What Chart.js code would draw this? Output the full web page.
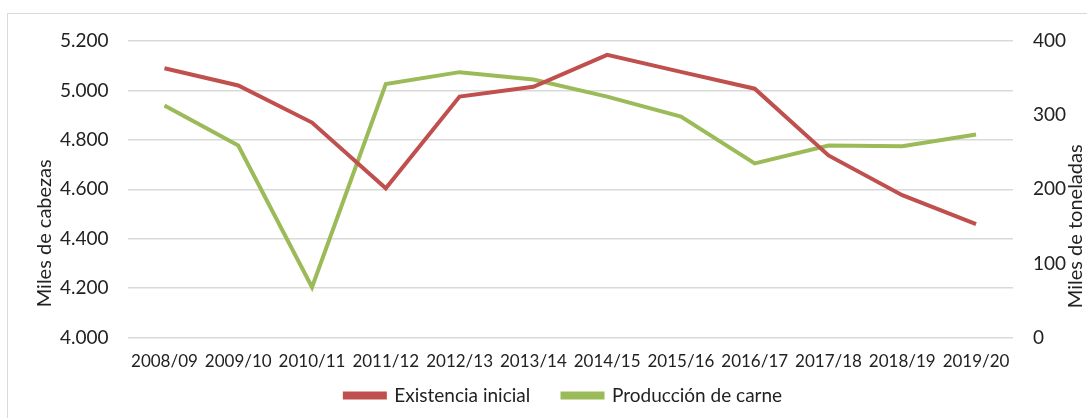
<!DOCTYPE html>
<html>
<head>
<meta charset="utf-8">
<script src="https://cdn.jsdelivr.net/npm/chart.js@4"></script>
<style>
  html, body { margin: 0; padding: 0; background: #fff; overflow: hidden; }
  #frame { position: absolute; left: 7px; top: 13px; width: 1200px; height: 600px; border-left: 1px solid #D9D9D9; border-top: 1px solid #D9D9D9; }
  #wrap { position: absolute; left: 0; top: 0; width: 1087px; height: 418px; }
</style>
</head>
<body>
<div id="frame"></div>
<div id="wrap"><canvas id="chart"></canvas></div>
<script>
const categories = ['2008/09', '2009/10', '2010/11', '2011/12', '2012/13', '2013/14',
    '2014/15', '2015/16', '2016/17', '2017/18', '2018/19', '2019/20'];
const existencia = [5090, 5020, 4870, 4604, 4975, 5015, 5144, 5075, 5007, 4737, 4576, 4459];
const produccion = [313, 259, 68, 342, 358, 348, 325, 298, 235, 259, 258, 274];
const leftTicks = [4000, 4200, 4400, 4600, 4800, 5000, 5200];
const rightTicks = [0, 100, 200, 300, 400];

const font = 'Lato, Open Sans, sans-serif';
const textColor = '#222';

function fmt(v) {
    return v.toString().replace(/\B(?=(\d{3})+(?!\d))/g, '.');
}

// both axis titles read bottom-to-top, like in the spreadsheet original
const axisTitles = {
    id: 'axisTitles',
    afterDraw(chart) {
        const c = chart.ctx;
        const area = chart.chartArea;
        const mid = area.top + (area.bottom - area.top) / 2;
        c.save();
        c.fillStyle = textColor;
        c.font = '20px ' + font;
        c.textAlign = 'center';
        c.textBaseline = 'middle';
        [['Miles de cabezas', 45, mid + 44], ['Miles de toneladas', 1076, mid + 37]].forEach(([t, x, y]) => {
            c.save();
            c.translate(x, y);
            c.rotate(-Math.PI / 2);
            c.fillText(t, 0, 0);
            c.restore();
        });
        c.restore();
    }
};

const ctx = document.getElementById('chart').getContext('2d');

new Chart(ctx, {
    type: 'line',
    data: {
        labels: categories,
        datasets: [{
            label: 'Existencia inicial',
            data: existencia,
            yAxisID: 'y',
            borderColor: '#C0504D',
            backgroundColor: '#C0504D',
            borderWidth: 4,
            pointRadius: 0,
            tension: 0
        }, {
            label: 'Producción de carne',
            data: produccion,
            yAxisID: 'y2',
            borderColor: '#9BBB59',
            backgroundColor: '#9BBB59',
            borderWidth: 4,
            pointRadius: 0,
            tension: 0
        }]
    },
    plugins: [axisTitles],
    options: {
        responsive: true,
        maintainAspectRatio: false,
        animation: false,
        layout: { padding: { left: 41, right: 1, top: 41, bottom: 3 } },
        plugins: {
            tooltip: { enabled: false },
            legend: {
                position: 'bottom',
                labels: {
                    font: { family: font, size: 19 },
                    color: textColor,
                    boxWidth: 40,
                    boxHeight: 4,
                    padding: 8,
                    // extra room after the first entry, as in the original legend
                    generateLabels: chart => {
                        const items = Chart.defaults.plugins.legend.labels.generateLabels(chart);
                        items[0].text = items[0].text + '     ';
                        return items;
                    }
                }
            }
        },
        scales: {
            x: {
                offset: true,
                grid: { display: false },
                border: { display: false },
                ticks: {
                    font: { family: font, size: 17 },
                    color: textColor,
                    maxRotation: 0,
                    padding: 6
                }
            },
            y: {
                position: 'left',
                min: 4000,
                max: 5200,
                afterBuildTicks: axis => { axis.ticks = leftTicks.map(v => ({ value: v })); },
                grid: { color: '#D9D9D9', lineWidth: 1.5, drawTicks: false },
                border: { display: false },
                ticks: {
                    font: { family: font, size: 19 },
                    color: textColor,
                    padding: 19,
                    callback: v => fmt(v)
                }
            },
            y2: {
                position: 'right',
                min: 0,
                max: 400,
                afterBuildTicks: axis => { axis.ticks = rightTicks.map(v => ({ value: v })); },
                grid: { display: false, drawTicks: false },
                border: { display: false },
                ticks: {
                    font: { family: font, size: 19 },
                    color: textColor,
                    padding: 20
                }
            }
        }
    }
});
</script>
</body>
</html>
